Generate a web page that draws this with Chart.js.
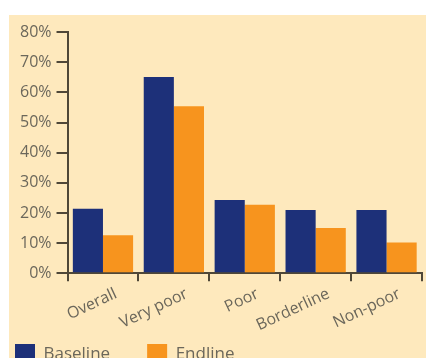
<!DOCTYPE html>
<html>
<head>
<meta charset="utf-8">
<script src="https://cdn.jsdelivr.net/npm/chart.js@4/dist/chart.umd.min.js"></script>
<style>
  html, body { margin: 0; padding: 0; background: #ffffff; overflow: hidden; }
  #panel { position: absolute; left: 9px; top: 15px; width: 417px; height: 359px; background: #fee9bd; }
  #panel canvas { display: block; }
</style>
</head>
<body>
<div id="panel"><canvas id="chart" width="417" height="359"></canvas></div>
<script>
// Share of households by poverty group, baseline vs endline survey
const categories = ['Overall', 'Very poor', 'Poor', 'Borderline', 'Non-poor'];
const baseline = [21.4, 65.1, 24.3, 21.0, 21.0];
const endline = [12.6, 55.4, 22.7, 15.0, 10.2];
const yTicks = [0, 10, 20, 30, 40, 50, 60, 70, 80];

const textColor = '#6b675b';
const axisColor = '#4f4738';
const fontFamily = '"Open Sans", "DejaVu Sans", sans-serif';

const LEGEND_GAP = 37;     // space between legend entries
const LABEL_OVERLAP = 31;  // slanted category labels run into the space above the legend

const layoutTweaks = {
  id: 'layoutTweaks',
  afterLayout(chart) {
    chart.scales.x.bottom += LABEL_OVERLAP;
    // legend entries start at the panel's left edge
    chart.legend.left -= LEGEND_GAP;
    chart.legend.right -= LEGEND_GAP;
  }
};

new Chart(document.getElementById('chart'), {
  type: 'bar',
  data: {
    labels: categories,
    datasets: [
      { label: 'Baseline', data: baseline, backgroundColor: '#1d3079', borderWidth: 0 },
      { label: 'Endline', data: endline, backgroundColor: '#f7941e', borderWidth: 0 }
    ]
  },
  plugins: [layoutTweaks],
  options: {
    responsive: false,
    animation: false,
    layout: { padding: { left: 6, right: 4, top: 17, bottom: 0 } },
    datasets: { bar: { categoryPercentage: 0.85, barPercentage: 1.0 } },
    plugins: {
      tooltip: { enabled: false },
      legend: {
        position: 'bottom',
        align: 'start',
        labels: {
          boxWidth: 20, boxHeight: 20, padding: LEGEND_GAP,
          color: textColor,
          font: { family: fontFamily, size: 17 }
        }
      }
    },
    scales: {
      x: {
        afterFit: (scale) => { scale.height -= LABEL_OVERLAP; },
        grid: { drawOnChartArea: false, drawTicks: true, tickLength: 8, color: axisColor, lineWidth: 2, offset: true },
        border: { display: true, color: axisColor, width: 2 },
        ticks: {
          color: textColor, font: { family: fontFamily, size: 16 },
          maxRotation: 25, minRotation: 25, padding: 3, labelOffset: 13
        }
      },
      y: {
        min: 0, max: 80,
        afterBuildTicks: (axis) => { axis.ticks = yTicks.map(v => ({ value: v })); },
        grid: { drawOnChartArea: false, drawTicks: true, tickLength: 11, color: axisColor, lineWidth: 2 },
        border: { display: true, color: axisColor, width: 2 },
        ticks: {
          color: textColor, font: { family: fontFamily, size: 16 }, padding: 5,
          callback: (v) => v + '%'
        }
      }
    }
  }
});
</script>
</body>
</html>
